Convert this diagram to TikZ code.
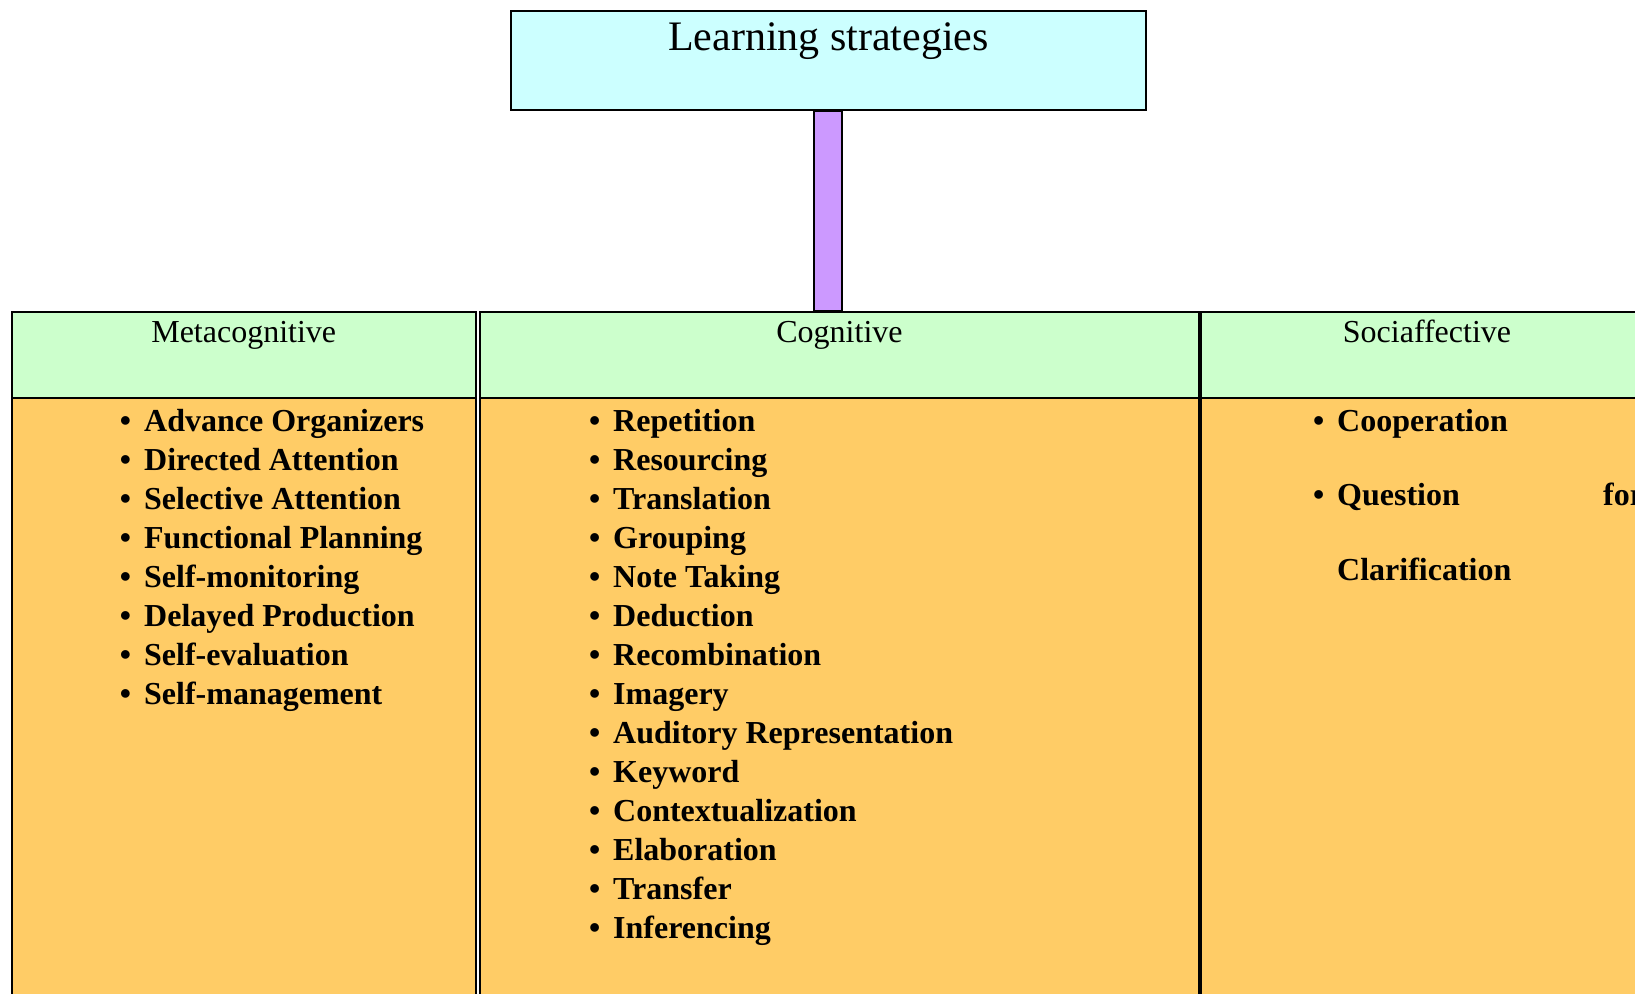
\documentclass[tikz,border=0pt]{standalone}
\usepackage{fontspec}
\setmainfont{Liberation Serif}
\usetikzlibrary{calc}
\definecolor{titlecyan}{HTML}{CCFFFF}
\definecolor{barpurple}{HTML}{CC99FF}
\definecolor{headgreen}{HTML}{CCFFCC}
\definecolor{bodyorange}{HTML}{FFCC66}
\newcommand{\itembul}{\llap{•\hspace{13pt}}}
\begin{document}
\begin{tikzpicture}[x=1pt,y=-1pt,
  titlebox/.style={draw, line width=2pt, fill=titlecyan, inner sep=0pt,
    minimum width=635pt, text height=39pt, text depth=60pt,
    font=\fontsize{42}{50}\selectfont, anchor=north west},
  headbox/.style={draw, line width=2pt, fill=headgreen, inner sep=0pt,
    text height=30pt, text depth=56pt,
    font=\fontsize{32}{39}\selectfont, anchor=north west},
  bodybox/.style={draw, line width=2pt, fill=bodyorange, inner sep=0pt,
    minimum height=640pt, anchor=north west},
  listtext/.style={inner sep=0pt, anchor=base west,
    font=\fontsize{32}{39.06}\selectfont\bfseries},
  sociallist/.style={inner sep=0pt, anchor=base west,
    font=\fontsize{32}{74.5}\selectfont\bfseries},
  barfill/.style={draw, line width=2pt, fill=barpurple}
]
\useasboundingbox (0,0) rectangle (1635,993);
\clip (0,0) rectangle (1635,993);

% title
\node[titlebox] (title) at (510,10) {Learning strategies};

% body boxes
\node[bodybox, minimum width=464.5pt] (bmeta) at (10.5,397) {};
\node[bodybox, minimum width=719pt] (bcog) at (479,397) {};
\node[bodybox, minimum width=452pt] (bsoc) at (1200,397) {};

% header boxes
\node[headbox, minimum width=464.5pt] (hmeta) at (10.5,311) {Metacognitive};
\node[headbox, minimum width=719pt] (hcog) at (479,311) {Cognitive};
\node[headbox, minimum width=452pt] (hsoc) at (1200,311) {Sociaffective};

% connector bar
\draw[barfill] ($(title.south)+(-14.5,0)$) rectangle ($(title.south |- hcog.north)+(13.5,0)$);

% lists
\node[listtext] (lmeta) at (144,431) {\begin{tabular}[t]{@{}l@{}}
\itembul Advance Organizers\\
\itembul Directed Attention\\
\itembul Selective Attention\\
\itembul Functional Planning\\
\itembul Self-monitoring\\
\itembul Delayed Production\\
\itembul Self-evaluation\\
\itembul Self-management
\end{tabular}};

\node[listtext] (lcog) at (613,431) {\begin{tabular}[t]{@{}l@{}}
\itembul Repetition\\
\itembul Resourcing\\
\itembul Translation\\
\itembul Grouping\\
\itembul Note Taking\\
\itembul Deduction\\
\itembul Recombination\\
\itembul Imagery\\
\itembul Auditory Representation\\
\itembul Keyword\\
\itembul Contextualization\\
\itembul Elaboration\\
\itembul Transfer\\
\itembul Inferencing
\end{tabular}};

\node[sociallist] (lsoc) at (1337,431) {\begin{tabular}[t]{@{}l@{}}
\itembul Cooperation\\
\itembul \makebox[266pt][l]{Question\hfill}for\\
Clarification
\end{tabular}};
\end{tikzpicture}
\end{document}
